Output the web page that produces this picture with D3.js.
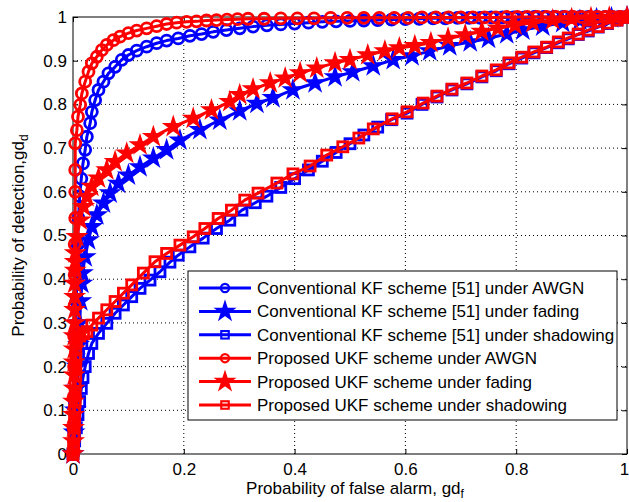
<!DOCTYPE html>
<html>
<head>
<meta charset="utf-8">
<script src="https://cdn.jsdelivr.net/npm/d3@7"></script>
<style>
  body { margin: 0; background: #fff; }
  text { font-family: "Liberation Sans", Arial, sans-serif; fill: #000; }
</style>
</head>
<body>
<div id="chart"></div>
<script>
// [Pf, Pd]
const kfAwgn = [[0,0],[0.002,0.05],[0.003,0.12],[0.004,0.2],[0.005,0.28],[0.006,0.35],[0.007,0.42],[0.008,0.48],[0.01,0.54],[0.012,0.59],[0.015,0.63],[0.018,0.665],[0.022,0.696],[0.025,0.726],[0.031,0.757],[0.034,0.783],[0.04,0.81],[0.046,0.833],[0.055,0.852],[0.064,0.871],[0.076,0.886],[0.088,0.902],[0.1,0.913],[0.115,0.923],[0.133,0.932],[0.151,0.94],[0.169,0.946],[0.19,0.951],[0.211,0.957],[0.232,0.961],[0.253,0.966],[0.277,0.97],[0.301,0.974],[0.325,0.978],[0.35,0.981],[0.375,0.983],[0.4,0.985],[0.425,0.987],[0.45,0.989],[0.475,0.99],[0.5,0.991],[0.525,0.992],[0.55,0.993],[0.575,0.994],[0.6,0.995],[0.625,0.996],[0.65,0.997],[0.672,0.997],[0.694,0.998],[0.715,0.998],[0.735,0.998],[0.755,0.999],[0.775,0.999],[0.795,0.999],[0.815,0.999],[0.833,1],[0.85,1],[0.868,1],[0.885,1],[0.9,1],[0.915,1],[0.93,1],[0.945,1],[0.96,1],[0.973,1],[0.986,1],[1,1]];
const kfFading = [[0,0],[0.002,0.05],[0.004,0.1],[0.006,0.15],[0.008,0.2],[0.01,0.25],[0.012,0.3],[0.014,0.35],[0.016,0.39],[0.017,0.414],[0.022,0.451],[0.028,0.49],[0.034,0.52],[0.043,0.547],[0.055,0.574],[0.067,0.597],[0.082,0.619],[0.1,0.638],[0.121,0.657],[0.145,0.677],[0.169,0.696],[0.193,0.718],[0.229,0.742],[0.265,0.764],[0.301,0.785],[0.332,0.802],[0.361,0.815],[0.397,0.833],[0.437,0.849],[0.473,0.863],[0.505,0.874],[0.542,0.888],[0.578,0.902],[0.612,0.911],[0.644,0.922],[0.68,0.934],[0.717,0.943],[0.75,0.951],[0.783,0.961],[0.812,0.97],[0.848,0.979],[0.884,0.987],[0.915,0.992],[0.945,0.996],[0.972,0.998],[1,1]];
const kfShadow = [[0,0],[0.003,0.03],[0.006,0.06],[0.009,0.09],[0.012,0.12],[0.015,0.15],[0.018,0.175],[0.022,0.2],[0.028,0.23],[0.034,0.253],[0.046,0.276],[0.061,0.299],[0.076,0.322],[0.091,0.341],[0.106,0.36],[0.121,0.379],[0.139,0.398],[0.157,0.417],[0.175,0.439],[0.19,0.455],[0.211,0.474],[0.235,0.494],[0.259,0.516],[0.283,0.535],[0.305,0.558],[0.329,0.575],[0.35,0.59],[0.375,0.61],[0.4,0.63],[0.425,0.65],[0.45,0.67],[0.475,0.69],[0.5,0.71],[0.525,0.73],[0.55,0.748],[0.575,0.765],[0.603,0.78],[0.63,0.8],[0.657,0.817],[0.684,0.833],[0.711,0.847],[0.738,0.863],[0.764,0.877],[0.787,0.893],[0.81,0.906],[0.832,0.918],[0.855,0.93],[0.876,0.941],[0.894,0.95],[0.912,0.96],[0.93,0.968],[0.948,0.977],[0.965,0.985],[0.982,0.993],[1,1]];
const ukfAwgn = [[0,0],[0.001,0.06],[0.001,0.13],[0.002,0.2],[0.002,0.27],[0.003,0.34],[0.003,0.41],[0.003,0.48],[0.004,0.54],[0.004,0.6],[0.004,0.65],[0.004,0.711],[0.007,0.741],[0.009,0.772],[0.013,0.799],[0.016,0.825],[0.022,0.852],[0.028,0.875],[0.034,0.894],[0.043,0.909],[0.052,0.924],[0.061,0.936],[0.073,0.947],[0.085,0.955],[0.1,0.963],[0.115,0.969],[0.133,0.974],[0.151,0.979],[0.169,0.984],[0.187,0.987],[0.205,0.989],[0.223,0.99],[0.241,0.992],[0.259,0.993],[0.278,0.994],[0.297,0.995],[0.316,0.996],[0.345,0.996],[0.375,0.997],[0.405,0.997],[0.435,0.997],[0.465,0.998],[0.495,0.998],[0.525,0.998],[0.553,0.998],[0.58,0.998],[0.605,0.998],[0.63,0.999],[0.655,0.999],[0.678,0.999],[0.7,0.999],[0.722,0.999],[0.743,0.999],[0.763,0.999],[0.783,1],[0.802,1],[0.82,1],[0.838,1],[0.855,1],[0.872,1],[0.888,1],[0.903,1],[0.918,1],[0.933,1],[0.947,1],[0.961,1],[0.974,1],[0.987,1],[1,1]];
const ukfFading = [[0,0],[0.001,0.03],[0.001,0.06],[0.001,0.09],[0.001,0.12],[0.002,0.15],[0.002,0.18],[0.002,0.21],[0.002,0.24],[0.002,0.27],[0.003,0.3],[0.003,0.33],[0.003,0.36],[0.003,0.39],[0.004,0.42],[0.004,0.44],[0.004,0.46],[0.007,0.497],[0.013,0.535],[0.019,0.566],[0.025,0.589],[0.034,0.612],[0.046,0.631],[0.061,0.65],[0.076,0.669],[0.097,0.688],[0.121,0.707],[0.145,0.726],[0.181,0.749],[0.217,0.768],[0.25,0.787],[0.283,0.806],[0.301,0.822],[0.325,0.835],[0.356,0.849],[0.383,0.86],[0.41,0.872],[0.44,0.883],[0.473,0.895],[0.5,0.902],[0.532,0.913],[0.563,0.922],[0.589,0.929],[0.617,0.934],[0.646,0.941],[0.677,0.951],[0.708,0.959],[0.738,0.967],[0.767,0.974],[0.798,0.981],[0.83,0.987],[0.866,0.993],[0.9,0.996],[0.935,0.998],[0.968,0.999],[1,1]];
const ukfShadow = [[0,0],[0.001,0.02],[0.002,0.04],[0.002,0.06],[0.003,0.08],[0.003,0.1],[0.004,0.12],[0.004,0.14],[0.004,0.16],[0.005,0.18],[0.005,0.2],[0.005,0.22],[0.005,0.24],[0.006,0.26],[0.012,0.27],[0.019,0.275],[0.025,0.28],[0.034,0.295],[0.046,0.311],[0.061,0.33],[0.076,0.349],[0.091,0.368],[0.106,0.387],[0.127,0.414],[0.148,0.44],[0.169,0.459],[0.193,0.478],[0.217,0.497],[0.238,0.516],[0.262,0.539],[0.286,0.558],[0.31,0.581],[0.334,0.597],[0.368,0.62],[0.397,0.641],[0.428,0.659],[0.458,0.684],[0.487,0.703],[0.516,0.723],[0.542,0.744],[0.576,0.767],[0.603,0.783],[0.632,0.803],[0.657,0.819],[0.684,0.835],[0.711,0.849],[0.738,0.865],[0.764,0.879],[0.787,0.895],[0.81,0.908],[0.832,0.92],[0.855,0.931],[0.876,0.943],[0.894,0.952],[0.912,0.961],[0.93,0.97],[0.948,0.978],[0.965,0.986],[0.982,0.993],[1,1]];

const seriesNames = [
  "Conventional KF scheme [51] under AWGN",
  "Conventional KF scheme [51] under fading",
  "Conventional KF scheme [51] under shadowing",
  "Proposed UKF scheme under AWGN",
  "Proposed UKF scheme under fading",
  "Proposed UKF scheme under shadowing"
];
const xTicks = [0, 0.2, 0.4, 0.6, 0.8, 1];
const yTicks = [0, 0.1, 0.2, 0.3, 0.4, 0.5, 0.6, 0.7, 0.8, 0.9, 1];

const series = [
  { name: seriesNames[0], data: kfAwgn, color: "#0000ff", marker: "circle" },
  { name: seriesNames[1], data: kfFading, color: "#0000ff", marker: "star" },
  { name: seriesNames[2], data: kfShadow, color: "#0000ff", marker: "square" },
  { name: seriesNames[3], data: ukfAwgn, color: "#ff0000", marker: "circle" },
  { name: seriesNames[4], data: ukfFading, color: "#ff0000", marker: "star" },
  { name: seriesNames[5], data: ukfShadow, color: "#ff0000", marker: "square" }
];

const W = 629, H = 502;
const margin = { top: 17, right: 2, bottom: 48, left: 73 };
const width = W - margin.left - margin.right;
const height = H - margin.top - margin.bottom;

const svg = d3.select('#chart').append('svg')
    .attr('width', W)
    .attr('height', H)
  .append('g')
    .attr('transform', `translate(${margin.left},${margin.top})`);

const x = d3.scaleLinear().domain([0, 1]).range([0, width]);
const y = d3.scaleLinear().domain([0, 1]).range([height, 0]);

// dotted grid
svg.append('g')
    .selectAll('line')
    .data(xTicks.slice(1, -1))
  .enter().append('line')
    .attr('x1', d => x(d)).attr('x2', d => x(d))
    .attr('y1', 0).attr('y2', height)
    .attr('stroke', '#000').attr('stroke-dasharray', '1,3');
svg.append('g')
    .selectAll('line')
    .data(yTicks.slice(1, -1))
  .enter().append('line')
    .attr('y1', d => y(d)).attr('y2', d => y(d))
    .attr('x1', 0).attr('x2', width)
    .attr('stroke', '#000').attr('stroke-dasharray', '1,3');

// axes with inward ticks on all four sides
const styleAxis = g => {
  g.select('.domain').remove();
  g.selectAll('.tick line').attr('stroke', '#000');
  g.selectAll('.tick text').style('font-size', '17px').style('font-family', '"Liberation Sans", Arial, sans-serif');
};
svg.append('g')
    .attr('transform', `translate(0,${height})`)
    .call(d3.axisBottom(x).tickValues(xTicks).tickFormat(d3.format('~g')).tickSizeInner(-5).tickPadding(9))
    .call(styleAxis)
    .call(g => g.selectAll('.tick text').filter(d => d === 1).attr('dx', -3));
svg.append('g')
    .call(d3.axisTop(x).tickValues(xTicks).tickFormat('').tickSizeInner(-5))
    .call(styleAxis);
svg.append('g')
    .call(d3.axisLeft(y).tickValues(yTicks).tickFormat(d3.format('~g')).tickSizeInner(-5).tickPadding(6))
    .call(styleAxis);
svg.append('g')
    .attr('transform', `translate(${width},0)`)
    .call(d3.axisRight(y).tickValues(yTicks).tickFormat('').tickSizeInner(-5))
    .call(styleAxis);

svg.append('rect')
    .attr('width', width).attr('height', height)
    .attr('fill', 'none').attr('stroke', '#000');

const star = d3.symbol().type(d3.symbolStar);

function drawMarker(sel, type, color, scale) {
  if (type === 'circle') {
    sel.append('circle').attr('r', 5.5 * scale)
        .attr('fill', 'none').attr('stroke', color).attr('stroke-width', 2.8 * scale);
  } else if (type === 'star') {
    sel.append('path').attr('d', star.size(105 * scale * scale)())
        .attr('fill', color).attr('stroke', color).attr('stroke-width', 1.5);
  } else {
    const s = 10 * scale;
    sel.append('rect').attr('x', -s / 2).attr('y', -s / 2).attr('width', s).attr('height', s)
        .attr('fill', 'none').attr('stroke', color).attr('stroke-width', 2.8 * scale);
  }
}

const line = d3.line().x(d => x(d[0])).y(d => y(d[1]));

series.forEach(s => {
  const g = svg.append('g');
  g.append('path')
      .datum(s.data)
      .attr('d', line)
      .attr('fill', 'none')
      .attr('stroke', s.color)
      .attr('stroke-width', 3)
      .attr('stroke-linejoin', 'round');
  g.selectAll('.pt')
      .data(s.data)
    .enter().append('g')
      .attr('transform', d => `translate(${x(d[0])},${y(d[1])})`)
      .each(function() { drawMarker(d3.select(this), s.marker, s.color, 1); });
});

// legend
const lg = svg.append('g').attr('transform', `translate(${188 - margin.left},${271 - margin.top})`);
lg.append('rect')
    .attr('width', 429).attr('height', 149)
    .attr('fill', '#fff').attr('stroke', '#000');
series.forEach((s, i) => {
  const row = lg.append('g').attr('transform', `translate(0,${17 + i * 23.4})`);
  row.append('line')
      .attr('x1', 11).attr('x2', 63)
      .attr('stroke', s.color).attr('stroke-width', 3);
  const m = row.append('g').attr('transform', 'translate(37,0)');
  drawMarker(m, s.marker, s.color, s.marker === 'star' ? 1 : 0.75);
  row.append('text')
      .attr('x', 69).attr('y', 6)
      .style('font-size', '17px')
      .text(s.name);
});

// axis titles
const xl = svg.append('text')
    .attr('x', width / 2 + 5).attr('y', height + 40)
    .attr('text-anchor', 'middle')
    .style('font-size', '17px');
xl.append('tspan').text('Probability of false alarm, gd');
xl.append('tspan').attr('dy', 4).style('font-size', '12px').text('f');

const yl = svg.append('text')
    .attr('transform', `translate(${-49},${height / 2}) rotate(-90)`)
    .attr('text-anchor', 'middle')
    .style('font-size', '17px');
yl.append('tspan').text('Probability of detection,gd');
yl.append('tspan').attr('dy', 4).style('font-size', '12px').text('d');
</script>
</body>
</html>
